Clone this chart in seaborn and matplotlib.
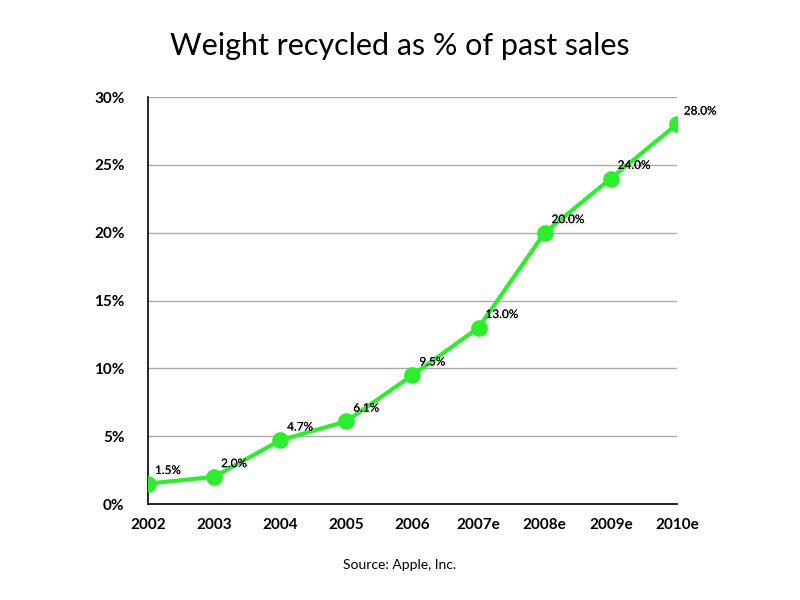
import matplotlib.pyplot as plt
import matplotlib.patheffects as pe
import seaborn as sns
import pandas as pd

# Data
years = ['2002', '2003', '2004', '2005', '2006', '2007e', '2008e', '2009e', '2010e']
recycled = [1.5, 2.0, 4.7, 6.1, 9.5, 13.0, 20.0, 24.0, 28.0]
yticks = [0, 5, 10, 15, 20, 25, 30]

df = pd.DataFrame({'year': years, 'pct': recycled})
df['pos'] = range(len(years))

sns.set_style('white')
plt.rcParams['font.family'] = ['Lato', 'DejaVu Sans']

fig = plt.figure(figsize=(8, 6), dpi=100)
ax = fig.add_axes([0.185, 0.16, 0.661, 0.678])

sns.lineplot(
    data=df,
    x='pos',
    y='pct',
    color='#2af02a',
    linewidth=3,
    marker='o',
    markersize=12,
    markeredgewidth=0,
    ax=ax,
    zorder=3
)

# Point labels
for x, v in zip(df['pos'], df['pct']):
    ax.annotate(
        f'{v:.1f}%',
        (x, v),
        xytext=(5, 7),
        textcoords='offset points',
        fontsize=8.5,
        color='black',
        path_effects=[pe.withSimplePatchShadow(offset=(1, -1), shadow_rgbFace='#bbbbbb', alpha=0.5), pe.Normal()],
        zorder=4
    )

ax.set_xlim(0, len(years) - 1)
ax.set_ylim(0, 30)
ax.set_xticks(df['pos'])
ax.set_xticklabels(years, fontsize=11, fontweight='bold')
ax.set_yticks(yticks)
ax.set_yticklabels([f'{t}%' for t in yticks], fontsize=11, fontweight='bold')
ax.tick_params(axis='both', length=0, pad=10, colors='black')
ax.tick_params(axis='y', pad=17)

ax.yaxis.grid(True, color='#aaaaaa', linewidth=1)
ax.set_axisbelow(True)
for s in ['top', 'right']:
    ax.spines[s].set_visible(False)
ax.spines['left'].set_color('black')
ax.spines['bottom'].set_color('black')
ax.spines['left'].set_linewidth(1.2)
ax.spines['bottom'].set_linewidth(1.2)

ax.set_xlabel('')
ax.set_ylabel('')

fig.text(0.5, 0.9, 'Weight recycled as % of past sales', ha='center', va='bottom', fontsize=22, color='black')
fig.text(0.5, 0.058, 'Source: Apple, Inc.', ha='center', va='center', fontsize=10, color='black')

fig.savefig('out.png', dpi=100)
